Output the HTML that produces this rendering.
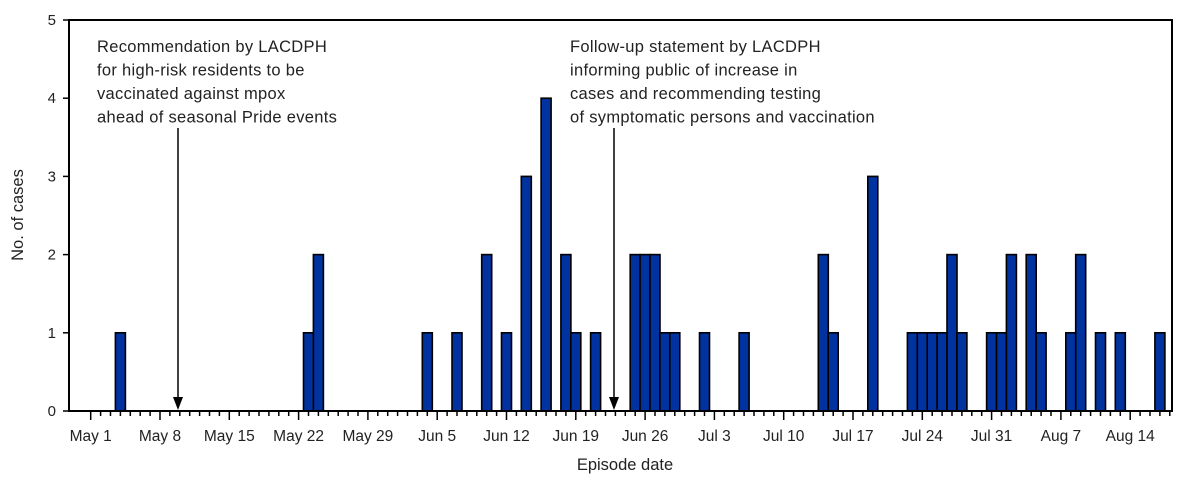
<!DOCTYPE html>
<html><head><meta charset="utf-8"><style>
body{margin:0;background:#fff}
svg{display:block;font-family:"Liberation Sans",sans-serif}
</style></head><body>
<svg id="c" width="1185" height="478"></svg>
<script>
const days=[3,22,23,34,37,40,42,44,46,48,49,51,55,56,57,58,59,62,66,74,75,79,83,84,85,86,87,88,91,92,93,95,96,99,100,102,104,108];
const cases=[1,1,2,1,1,2,1,3,4,2,1,1,2,2,2,1,1,1,1,2,1,3,1,1,1,1,2,1,1,1,2,2,1,1,2,1,1,1];
const tickLabels=["May 1","May 8","May 15","May 22","May 29","Jun 5","Jun 12","Jun 19","Jun 26","Jul 3","Jul 10","Jul 17","Jul 24","Jul 31","Aug 7","Aug 14"];
const yTicks=[0,1,2,3,4,5];
const NS="http://www.w3.org/2000/svg";
const svg=document.getElementById('c');
const X0=69,X1=1172,Y0=411,Y1=20;
const x=d=>90.7+9.9*d;
const y=v=>Y0-(Y0-Y1)*v/5;
function mk(t,a,p){const e=document.createElementNS(NS,t);for(const k in a)e.setAttribute(k,a[k]);(p||svg).appendChild(e);return e;}
// bars
days.forEach((d,i)=>{
 const r=mk('rect',{x:x(d)-5,y:y(cases[i]),width:10,height:Y0-y(cases[i]),fill:'#0033a0',stroke:'#000','stroke-width':1.6});
 
 
});
// frame
const f=mk('rect',{x:X0,y:Y1,width:X1-X0,height:Y0-Y1,fill:'none',stroke:'#000','stroke-width':2});

// y ticks
yTicks.forEach(v=>{
 mk('line',{x1:X0-6,x2:X0,y1:y(v),y2:y(v),stroke:'#000','stroke-width':1.5});
 const t=mk('text',{x:X0-13,y:y(v)+5,'text-anchor':'end','font-size':15,fill:'#222'});t.textContent=v;
 
});
// x ticks
for(let d=0;d<=109;d++){
 const maj=d%7===0;
 mk('line',{x1:x(d),x2:x(d),y1:Y0,y2:Y0+(maj?9:5),stroke:'#000','stroke-width':1.5});
}
tickLabels.forEach((l,i)=>{
 const t=mk('text',{x:x(i*7),y:441,'text-anchor':'middle','font-size':15.5,fill:'#222'});t.textContent=l;
 
});
let t=mk('text',{x:625,y:470,'text-anchor':'middle','font-size':16.5,fill:'#222'});t.textContent='Episode date';

t=mk('text',{x:0,y:0,'text-anchor':'middle','font-size':16.5,fill:'#222',transform:'translate(23,215) rotate(-90)'});t.textContent='No. of cases';

// annotations
function ann(ax,tx,lines,name){
 const g=mk('g',{});
 lines.forEach((s,i)=>{const e=mk('text',{x:tx,y:52+i*23.5,'font-size':16.5,'letter-spacing':0.3,fill:'#222'},g);e.textContent=s;});
 mk('line',{x1:ax,x2:ax,y1:128,y2:398,stroke:'#000','stroke-width':1.5},g);
 mk('polygon',{points:`${ax-5},397 ${ax+5},397 ${ax},410`,fill:'#000'},g);
}
ann(178,97,["Recommendation by LACDPH","for high-risk residents to be","vaccinated against mpox","ahead of seasonal Pride events"],'annotation-recommendation');
ann(614,570,["Follow-up statement by LACDPH","informing public of increase in","cases and recommending testing","of symptomatic persons and vaccination"],'annotation-follow-up');
</script>
</body></html>
